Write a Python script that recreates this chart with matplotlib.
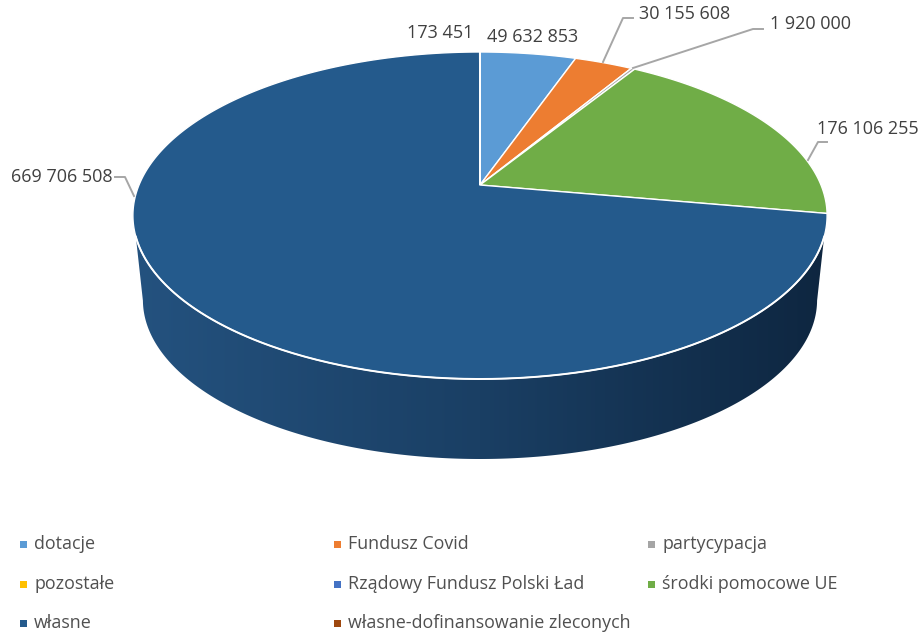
import numpy as np
import matplotlib
matplotlib.use("Agg")
import matplotlib.pyplot as plt
from matplotlib.colors import LinearSegmentedColormap
from matplotlib.patches import Polygon, Rectangle

plt.rcParams['font.family'] = ['Open Sans', 'DejaVu Sans']

categories = ["dotacje", "Fundusz Covid", "partycypacja", "pozostałe",
              "Rządowy Fundusz Polski Ład", "środki pomocowe UE", "własne",
              "własne-dofinansowanie zleconych"]
values = [49632853, 30155608, 1920000, 0, 0, 176106255, 669706508, 173451]
colors = ["#5B9BD5", "#ED7D31", "#A5A5A5", "#FFC000", "#4472C4", "#70AD47",
          "#245A8C", "#9E480E"]

# label position and leader line per slice, in figure pixels
label_pos = {
    0: (533, 37),
    1: (685, 14),
    2: (810, 24),
    5: (868, 129),
    6: (62, 177),
    7: (440, 33),
}
leaders = {
    1: [(603, 62), (623, 18), (633, 18)],
    2: [(633, 68), (753, 29), (763, 29)],
    5: [(808, 160), (818, 142), (827, 142)],
    6: [(134, 196), (125, 177), (115, 177)],
}

# pie is a circle seen in perspective, so the apex sits above the ellipse centre
apex_x, apex_y = 480, 185
top_y, bottom_y = 52, 379
half_w = 341
k = (bottom_y - apex_y - (apex_y - top_y)) / (bottom_y - top_y)
b = (apex_y - top_y) * (1 + k)


def rim(theta):
    # theta is clockwise from 12 o'clock, in radians
    d = 1 + k * np.cos(theta)
    return apex_x + half_w * np.sin(theta) / d, apex_y - b * np.cos(theta) / d


def lower_rim(theta):
    # same points on the base of the disc, a bit smaller because it is further away
    x, y = rim(theta)
    nx = (x - apex_x) / 347
    ny = (y - 215.5) / 163.5
    return apex_x + nx * 337, 300 + ny * 159


fig = plt.figure(figsize=(9.24, 6.37), dpi=100)
ax = fig.add_axes([0, 0, 1, 1])
ax.axis('off')

vals = np.array(values, dtype=float)
edges = np.concatenate([[0], np.cumsum(vals)]) / vals.sum() * 2 * np.pi

# side wall, only the big slice shows at the front
side_cmap = LinearSegmentedColormap.from_list("side", ["#24527F", "#1A3F64", "#0E2640"])
tx, ty = rim(np.radians(np.linspace(108, 252, 300)))
lx, ly = lower_rim(np.radians(np.linspace(259, 101, 300)))
side = Polygon(np.column_stack([np.r_[tx, lx], np.r_[ty, ly]]), closed=True,
               facecolor="none", edgecolor="none", transform=ax.transData)
ax.add_patch(side)
grad = np.linspace(0, 1, 256).reshape(1, -1)
img = ax.imshow(grad, cmap=side_cmap, extent=[133, 827, 470, 190], aspect='auto', zorder=1)
img.set_clip_path(side)
ax.set_xlim(0, 924)
ax.set_ylim(637, 0)

# top face
for i in range(len(values)):
    if values[i] == 0:
        continue
    th = np.linspace(edges[i], edges[i + 1], max(int((edges[i + 1] - edges[i]) * 120), 2))
    x, y = rim(th)
    pts = np.column_stack([np.r_[apex_x, x], np.r_[apex_y, y]])
    ax.add_patch(Polygon(pts, closed=True, facecolor=colors[i], edgecolor="white", linewidth=1.0, zorder=2))

# white line where the top meets the side
x, y = rim(np.radians(np.linspace(108, 252, 300)))
ax.plot(x, y, color="white", lw=1.4, zorder=3)

for i, (lab_x, lab_y) in label_pos.items():
    ax.text(lab_x, lab_y, f"{values[i]:,}".replace(",", " "), fontsize=13, color="#404040",
            ha="center", va="center", zorder=5)
for pts in leaders.values():
    ax.plot(*zip(*pts), color="#A6A6A6", lw=1.4, zorder=4)

# legend, three columns
col_x = [20, 334, 648]
row_y = [544, 584, 623]
for i, name in enumerate(categories):
    mx = col_x[i % 3]
    my = row_y[i // 3]
    ax.add_patch(Rectangle((mx, my - 3.5), 7, 7, facecolor=colors[i], edgecolor="none"))
    ax.text(mx + 14, my, name, fontsize=12.9, color="#505050", ha="left", va="center")

fig.savefig("out.png", dpi=100)
